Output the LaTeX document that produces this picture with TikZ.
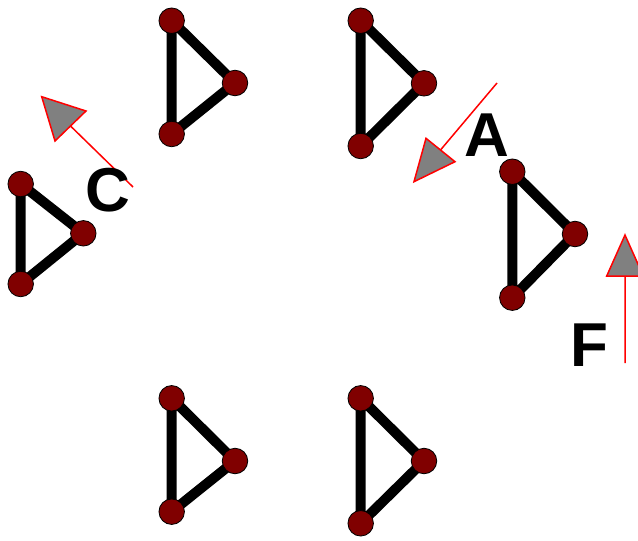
\documentclass[tikz,border=0pt]{standalone}
\usepackage{fontspec}
\setmainfont{Liberation Sans}
\usetikzlibrary{backgrounds,calc}
\definecolor{nodered}{HTML}{800000}
\definecolor{headgray}{HTML}{808080}
\tikzset{
  vtx/.style={circle,fill=nodered,draw=black,line width=0.8pt,minimum size=25.5pt,inner sep=0pt},
  edge/.style={line width=10pt,black},
  redline/.style={draw=red,line width=1.5pt},
  arrowhead/.style={fill=headgray,draw=red,line width=1.5pt,line join=miter},
  lbl/.style={font=\fontsize{62}{62}\selectfont\bfseries,inner sep=0pt,text=black}
}
\begin{document}
\begin{tikzpicture}[x=1pt,y=-1pt]
\useasboundingbox (0,0) rectangle (638,541);
% triangles: name/top x/top y/bottom y/right x/right y
\foreach \n/\tx/\ty/\by/\rx/\ry in {
  t1/171.7/20.7/134/235/83,
  t2/360.7/20.7/146/424/83.3,
  t3/20.7/184/284/83.3/233.3,
  t4/512.3/171.7/297.7/575/234,
  t5/171.7/398.3/511.7/235/461,
  t6/360.7/398.3/523.3/424/461}{
  \node[vtx] (\n a) at (\tx,\ty) {};
  \node[vtx] (\n b) at (\rx,\ry) {};
  \node[vtx] (\n c) at (\tx,\by) {};
  \begin{scope}[on background layer]
    \draw[edge] (\n a.center) -- (\n b.center) -- (\n c.center) -- cycle;
  \end{scope}
}
% arrow C
\coordinate (cs) at (133,187);
\coordinate (ct) at (41.7,96.7);
\coordinate (c1) at (86,111);
\coordinate (c2) at (55,141);
\draw[redline] (cs) -- ($(c1)!0.5!(c2)$);
\draw[arrowhead] (ct) -- (c1) -- (c2) -- cycle;
% arrow A
\coordinate (as) at (497,83);
\coordinate (at) at (414,181.7);
\coordinate (a1) at (426,138.3);
\coordinate (a2) at (455,161.7);
\draw[redline] (as) -- ($(a1)!0.5!(a2)$);
\draw[arrowhead] (at) -- (a1) -- (a2) -- cycle;
% arrow F
\coordinate (fs) at (625,363);
\coordinate (ft) at (625,235);
\coordinate (f1) at (606.7,276);
\coordinate (f2) at (643.3,276);
\draw[redline] (fs) -- ($(f1)!0.5!(f2)$);
\draw[arrowhead] (ft) -- (f1) -- (f2) -- cycle;
% labels
\node[lbl] (lC) at (108,190) {C};
\node[lbl] (lA) at (487,135) {A};
\node[lbl] (lF) at (589,345) {F};
\end{tikzpicture}
\end{document}
